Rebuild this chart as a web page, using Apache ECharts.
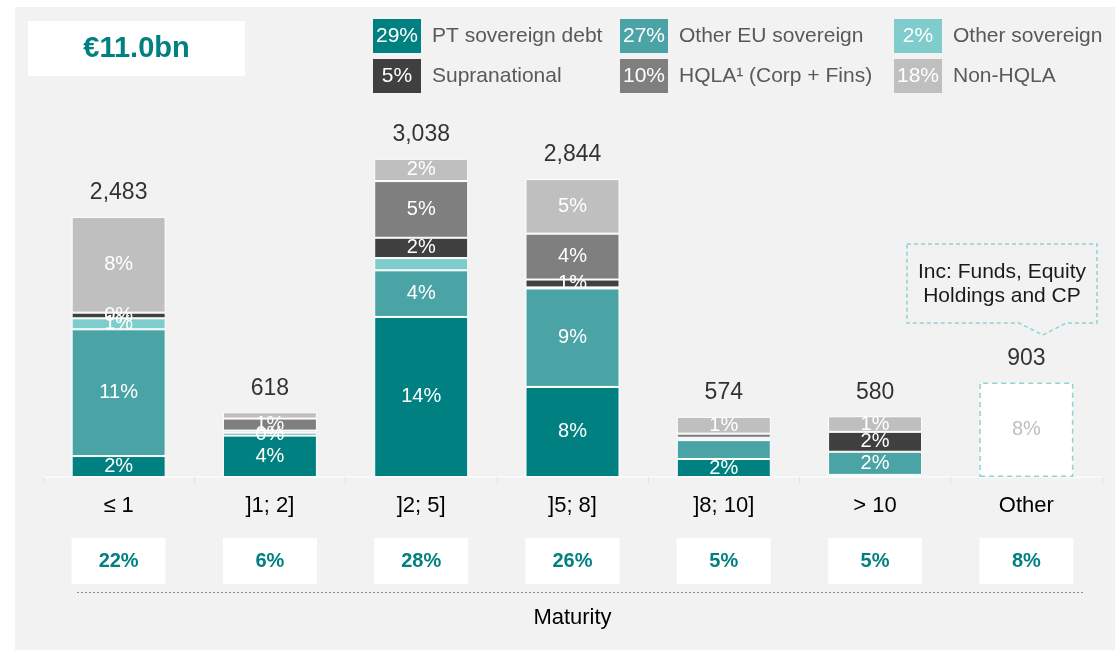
<!DOCTYPE html>
<html>
<head>
<meta charset="utf-8">
<script src="https://cdn.jsdelivr.net/npm/echarts@6/dist/echarts.min.js"></script>
<style>
  html, body { margin: 0; padding: 0; background: #ffffff; }
  #chart { width: 1115px; height: 650px; }
</style>
</head>
<body>
<div id="chart"></div>
<script>
// Maturity buckets (years)
const maturities = ['≤ 1', ']1; 2]', ']2; 5]', ']5; 8]', ']8; 10]', '> 10', 'Other'];

// Portfolio amounts per asset class and bucket, €m ('-' = none)
const ptSovereign   = [200, 395, 1528, 860, 172, 20, '-'];
const otherEuSov    = [1210, 28, 445, 940, 180, 221, '-'];
const otherSov      = [105, 20, 117, 10, 22, '-', '-'];
const supranational = [54, '-', 194, 75, '-', 190, '-'];
const hqlaCorpFins  = ['-', 115, 541, 438, 40, '-', '-'];
const nonHqla       = [914, 60, 213, 521, 160, 149, '-'];
const otherHoldings = ['-', '-', '-', '-', '-', '-', 903];

// Buckets where a segment carries no percentage label
const unlabelled = {
  'PT sovereign debt': [5],
  'Other EU sovereign': [4],
  'Other sovereign': [1, 2, 3, 4],
  'HQLA¹ (Corp + Fins)': [4],
  'Non-HQLA': [1]
};

const num = v => (v === '-' ? 0 : v);

const assetClasses = [
  { name: 'PT sovereign debt',   data: ptSovereign,   color: '#008080' },
  { name: 'Other EU sovereign',  data: otherEuSov,    color: '#4aa3a5' },
  { name: 'Other sovereign',     data: otherSov,      color: '#7ecdcc' },
  { name: 'Supranational',       data: supranational, color: '#404040' },
  { name: 'HQLA¹ (Corp + Fins)', data: hqlaCorpFins,  color: '#7f7f7f' },
  { name: 'Non-HQLA',            data: nonHqla,       color: '#bfbfbf' }
];

const allSeriesData = assetClasses.map(a => a.data).concat([otherHoldings]);
const totals = maturities.map((_, i) => allSeriesData.reduce((s, d) => s + num(d[i]), 0));
const grandTotal = totals.reduce((s, v) => s + v, 0);
const pct = v => Math.round(num(v) / grandTotal * 100) + '%';
const classShare = a => pct(a.data.reduce((s, v) => s + num(v), 0));

const FONT = '"Liberation Sans", Arial, sans-serif';

const chart = echarts.init(document.getElementById('chart'), null, { renderer: 'canvas' });

// Legend: three columns, each entry has a coloured box holding the class share
const legendRich = { t: { fontSize: 21, color: '#595959', padding: [0, 0, 0, 11], fontFamily: FONT } };
assetClasses.forEach((a, i) => {
  legendRich['b' + i] = {
    backgroundColor: a.color, color: '#ffffff', width: 48, height: 34, lineHeight: 34,
    align: 'center', fontSize: 21, fontFamily: FONT
  };
});
const legendColumns = [[0, 3], [1, 4], [2, 5]];
const legendLefts = [367, 614, 888];
const legends = legendColumns.map((col, c) => ({
  orient: 'vertical',
  left: legendLefts[c],
  top: 19,
  padding: 0,
  itemGap: 6,
  itemWidth: 0,
  itemHeight: 0,
  selectedMode: false,
  data: col.map(i => assetClasses[i].name),
  formatter: name => {
    const i = assetClasses.findIndex(a => a.name === name);
    return '{b' + i + '|' + classShare(assetClasses[i]) + '}{t|' + name + '}';
  },
  textStyle: { rich: legendRich }
}));

const barSeries = assetClasses.map(a => ({
  type: 'bar',
  name: a.name,
  stack: 'portfolio',
  barWidth: 94,
  data: a.data.map((v, i) => ({
    value: v,
    label: { show: v !== '-' && !(unlabelled[a.name] || []).includes(i) }
  })),
  itemStyle: { color: a.color, borderColor: '#ffffff', borderWidth: 1 },
  label: {
    position: 'inside', color: '#ffffff', fontSize: 20, fontFamily: FONT,
    formatter: p => pct(p.value)
  }
}));

barSeries.push({
  type: 'bar',
  name: 'Other holdings',
  stack: 'portfolio',
  barWidth: 94,
  data: otherHoldings.map(v => ({ value: v, label: { show: v !== '-' } })),
  itemStyle: { color: '#ffffff', borderColor: '#8fd3d3', borderWidth: 1.5, borderType: [5, 4] },
  label: {
    position: 'inside', color: '#bfbfbf', fontSize: 20, fontFamily: FONT,
    formatter: p => pct(p.value)
  }
});

// Bucket totals printed above each stack
barSeries.push({
  type: 'scatter',
  name: 'Total',
  data: totals,
  symbolSize: 1,
  silent: true,
  z: 5,
  itemStyle: { color: 'rgba(0,0,0,0)' },
  label: {
    show: true, position: 'top', distance: 12, color: '#000000', fontSize: 23, fontFamily: FONT,
    formatter: p => p.value.toLocaleString('en-US')
  }
});

const option = {
  animation: false,
  backgroundColor: '#ffffff',
  textStyle: { fontFamily: FONT },
  legend: legends,
  grid: { left: 43, right: 13, top: 58, bottom: 173 },
  xAxis: [
    {
      type: 'category',
      data: maturities,
      axisLine: { onZero: false, lineStyle: { color: '#f9f9f9', width: 2 } },
      axisTick: { show: true, length: 6, lineStyle: { color: '#e0e0e0' } },
      axisLabel: { fontSize: 22, color: '#000000', margin: 18, fontFamily: FONT }
    },
    {
      // Share of the portfolio per bucket, with the axis title underneath
      type: 'category',
      data: maturities,
      position: 'bottom',
      offset: 115,
      axisLine: { show: false, onZero: false },
      axisTick: { show: false },
      axisLabel: {
        inside: true, margin: 8,
        formatter: (v, i) => pct(totals[i]),
        backgroundColor: '#ffffff', width: 94, height: 46, lineHeight: 46, align: 'center',
        fontSize: 20, fontWeight: 'bold', color: '#008080', fontFamily: FONT
      },
      name: 'Maturity',
      nameLocation: 'middle',
      nameGap: 15,
      nameTextStyle: { fontSize: 22, color: '#000000', fontFamily: FONT }
    }
  ],
  yAxis: { type: 'value', min: 0, max: 4000, show: false },
  series: barSeries,
  graphic: [
    {
      type: 'rect', z: -10, silent: true,
      shape: { x: 15, y: 7, width: 1100, height: 643 },
      style: { fill: '#f2f2f2' }
    },
    {
      type: 'line', z: 1, silent: true,
      shape: { x1: 77, y1: 592.5, x2: 1083, y2: 592.5 },
      style: { stroke: '#8c8c8c', lineWidth: 1, lineDash: [2, 2] }
    },
    {
      type: 'rect', z: 1, silent: true,
      shape: { x: 28, y: 21, width: 217, height: 55 },
      style: { fill: '#ffffff' }
    },
    {
      type: 'text', z: 2, silent: true,
      style: {
        text: '€' + (grandTotal / 1000).toFixed(1) + 'bn',
        x: 136.5, y: 48.5, align: 'center', verticalAlign: 'middle',
        font: 'bold 29px ' + FONT, fill: '#008080'
      }
    },
    {
      type: 'polygon', z: 1, silent: true,
      shape: { points: [[907, 244], [1097, 244], [1097, 323], [1066, 323], [1043, 335], [1019, 323], [907, 323]] },
      style: { fill: 'none', stroke: '#8fd3d3', lineWidth: 1.5, lineDash: [4, 3] }
    },
    {
      type: 'text', z: 2, silent: true,
      style: {
        text: 'Inc: Funds, Equity\nHoldings and CP',
        x: 1002, y: 284.5, align: 'center', verticalAlign: 'middle', lineHeight: 24,
        font: '21px ' + FONT, fill: '#1a1a1a'
      }
    }
  ]
};

chart.setOption(option);
</script>
</body>
</html>
